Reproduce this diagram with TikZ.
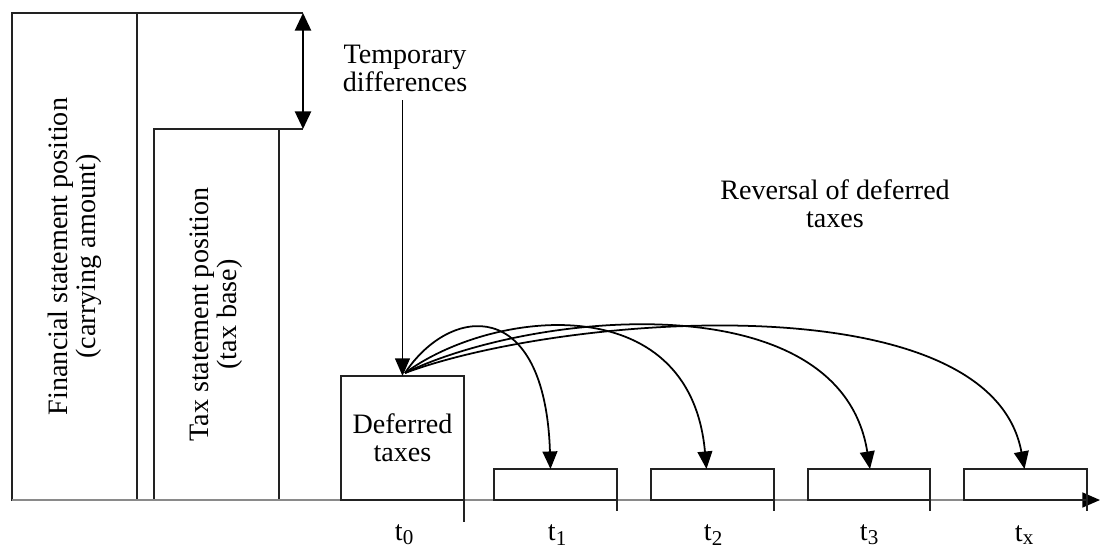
\documentclass[tikz,border=0pt]{standalone}
\usepackage{fontspec}
\setmainfont{Liberation Serif}
\usepackage{xcolor}
\definecolor{edgeDark}{HTML}{222222}
\definecolor{edgeLight}{HTML}{8A8A8A}
\usetikzlibrary{arrows.meta}
\tikzset{
  txt/.style={font=\fontsize{8}{8}\selectfont, align=center, inner sep=0pt},
  block/.style={draw=edgeDark, line width=0.5pt, anchor=south west, inner sep=0pt, outer sep=0pt},
  tip/.style={-{Triangle[length=5pt,width=4.2pt]}, line width=0.5pt}
}

\begin{document}
\begin{tikzpicture}
  \useasboundingbox (0,0) rectangle (11.01,5.45);
  % columns on the left
  \node[block, minimum width=1.25cm, minimum height=4.87cm] (fin) at (0.12,0.45) {};
  \node[block, minimum width=1.25cm, minimum height=3.71cm] (tax) at (1.54,0.45) {};
  \node[txt, rotate=90] (finlabel) at (fin.center) {Financial statement position\\(carrying amount)};
  \node[txt, rotate=90] (taxlabel) at (tax.center) {Tax statement position\\(tax base)};
  \coordinate (dimtop) at (fin.north east -| 3.03,0);
  \coordinate (dimbot) at (tax.north east -| 3.03,0);
  \draw[edgeDark, line width=0.5pt] (fin.north east) -- (dimtop);
  \draw[edgeDark, line width=0.5pt] (tax.north east) -- (dimbot);
  \draw[tip, {Triangle[length=5pt,width=4.6pt]}-{Triangle[length=5pt,width=4.6pt]}] (dimtop) -- (dimbot);
  % time axis
  \coordinate (origin) at (0.12,0.45);
  \coordinate (axisend) at (11.0,0.45);
  \draw[-{Triangle[length=5pt,width=4.2pt,color=black]}, draw=edgeLight, line width=0.6pt] (origin) -- (axisend);
  % deferred taxes
  \node[block, minimum width=1.23cm, minimum height=1.24cm] (deferred) at (3.41,0.45) {};
  \node[txt] (deflabel) at (deferred.center) {Deferred\\taxes};
  \draw[edgeDark, line width=0.5pt] (deferred.south east) -- ++(0,-0.22);
  \node[txt] (tempdiff) at (4.05,4.77) {Temporary\\differences};
  \draw[tip] (tempdiff.south -| deferred.north) ++(0,-0.08) -- (deferred.north);
  \node[txt] (reversal) at (8.35,3.41) {Reversal of deferred\\taxes};
  % reversal periods
  \node[block, minimum width=1.23cm, minimum height=0.31cm] (r1) at (4.94,0.45) {};
  \node[block, minimum width=1.23cm, minimum height=0.31cm] (r2) at (6.51,0.45) {};
  \node[block, minimum width=1.22cm, minimum height=0.31cm] (r3) at (8.08,0.45) {};
  \node[block, minimum width=1.23cm, minimum height=0.31cm] (r4) at (9.64,0.45) {};
  \foreach \r in {r1,r2,r3,r4}
    \draw[edgeDark, line width=0.5pt] (\r.south east) -- ++(0,-0.11);
  \node[txt] (t0) at (4.05,0.10) {t\textsubscript{0}};
  \node[txt] (t1) at (5.58,0.10) {t\textsubscript{1}};
  \node[txt] (t2) at (7.14,0.10) {t\textsubscript{2}};
  \node[txt] (t3) at (8.70,0.10) {t\textsubscript{3}};
  \node[txt] (tx) at (10.25,0.10) {t\textsubscript{x}};
  \coordinate (src) at (4.05,1.72);
  \draw[tip] (src) .. controls (4.5,2.4) and (5.45,2.5) .. ([xshift=-0.05cm]r1.north);
  \draw[tip] (src) .. controls (4.9,2.35) and (6.9,2.6) .. ([xshift=-0.06cm]r2.north);
  \draw[tip] (src) .. controls (5.3,2.33) and (8.4,2.65) .. ([xshift=0.01cm]r3.north);
  \draw[tip] (src) .. controls (5.6,2.3) and (9.9,2.65) .. ([xshift=-0.01cm]r4.north);
\end{tikzpicture}
\end{document}
